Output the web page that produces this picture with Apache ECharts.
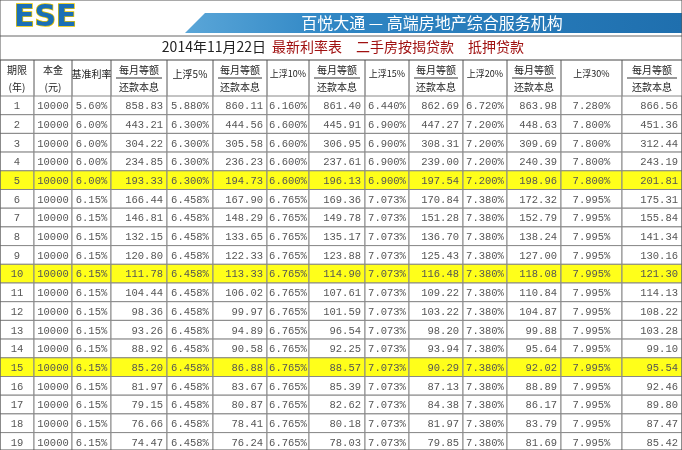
<!DOCTYPE html>
<html><head><meta charset="utf-8">
<script src="https://cdn.jsdelivr.net/npm/echarts@6/dist/echarts.min.js"></script>
<style>html,body{margin:0;padding:0;background:#fff}#c{width:682px;height:450px}</style>
</head><body><div id="c"></div>
<script>
const years=[1,2,3,4,5,6,7,8,9,10,11,12,13,14,15,16,17,18,19,20];
const principal=Array(20).fill('10000');
const baseRate=['5.60%','6.00%','6.00%','6.00%','6.00%','6.15%','6.15%','6.15%','6.15%','6.15%','6.15%','6.15%','6.15%','6.15%','6.15%','6.15%','6.15%','6.15%','6.15%','6.15%'];
const pay0=['858.83','443.21','304.22','234.85','193.33','166.44','146.81','132.15','120.80','111.78','104.44','98.36','93.26','88.92','85.20','81.97','79.15','76.66','74.47',''];
const rate5=['5.880%','6.300%','6.300%','6.300%','6.300%','6.458%','6.458%','6.458%','6.458%','6.458%','6.458%','6.458%','6.458%','6.458%','6.458%','6.458%','6.458%','6.458%','6.458%','6.458%'];
const pay5=['860.11','444.56','305.58','236.23','194.73','167.90','148.29','133.65','122.33','113.33','106.02','99.97','94.89','90.58','86.88','83.67','80.87','78.41','76.24',''];
const rate10=['6.160%','6.600%','6.600%','6.600%','6.600%','6.765%','6.765%','6.765%','6.765%','6.765%','6.765%','6.765%','6.765%','6.765%','6.765%','6.765%','6.765%','6.765%','6.765%','6.765%'];
const pay10=['861.40','445.91','306.95','237.61','196.13','169.36','149.78','135.17','123.88','114.90','107.61','101.59','96.54','92.25','88.57','85.39','82.62','80.18','78.03',''];
const rate15=['6.440%','6.900%','6.900%','6.900%','6.900%','7.073%','7.073%','7.073%','7.073%','7.073%','7.073%','7.073%','7.073%','7.073%','7.073%','7.073%','7.073%','7.073%','7.073%','7.073%'];
const pay15=['862.69','447.27','308.31','239.00','197.54','170.84','151.28','136.70','125.43','116.48','109.22','103.22','98.20','93.94','90.29','87.13','84.38','81.97','79.85',''];
const rate20=['6.720%','7.200%','7.200%','7.200%','7.200%','7.380%','7.380%','7.380%','7.380%','7.380%','7.380%','7.380%','7.380%','7.380%','7.380%','7.380%','7.380%','7.380%','7.380%','7.380%'];
const pay20=['863.98','448.63','309.69','240.39','198.96','172.32','152.79','138.24','127.00','118.08','110.84','104.87','99.88','95.64','92.02','88.89','86.17','83.79','81.69',''];
const rate30=['7.280%','7.800%','7.800%','7.800%','7.800%','7.995%','7.995%','7.995%','7.995%','7.995%','7.995%','7.995%','7.995%','7.995%','7.995%','7.995%','7.995%','7.995%','7.995%','7.995%'];
const pay30=['866.56','451.36','312.44','243.19','201.81','175.31','155.84','141.34','130.16','121.30','114.13','108.22','103.28','99.10','95.54','92.46','89.80','87.47','85.42',''];
const highlightYears=[5,10,15,20];
const headerTop=['期限','本金','基准利率','每月等额','上浮5%','每月等额','上浮10%','每月等额','上浮15%','每月等额','上浮20%','每月等额','上浮30%','每月等额'];
const headerBottom=['(年)','(元)','','还款本息','','还款本息','','还款本息','','还款本息','','还款本息','','还款本息'];
const bannerText='百悦大通 — 高端房地产综合服务机构';
const titleDate='2014年11月22日';
const titleRest='最新利率表　二手房按揭贷款　抵押贷款';

const colX=[0,34,72,111,167,213,267,309,365,409,463,507,561,622,682];
const hdrTop=60, hdrMid=78, bodyTop=96, rowH=18.7;
const columns=[years.map(String),principal,baseRate,pay0,rate5,pay5,rate10,pay10,rate15,pay15,rate20,pay20,rate30,pay30];
const cells=[];
years.forEach((y,r)=>columns.forEach((col,c)=>cells.push([c,r,col[r],highlightYears.includes(y)?1:0])));

const chart=echarts.init(document.getElementById('c'));
const F='"Noto Sans CJK SC","DejaVu Sans",sans-serif';
const numFont='"Liberation Mono","DejaVu Sans Mono",monospace';
function cellItem(params,api){
  const c=api.value(0),r=api.value(1),txt=cells[params.dataIndex][2],hl=cells[params.dataIndex][3];
  const p0=api.coord([colX[c],bodyTop+r*rowH]);const p1=api.coord([colX[c+1],bodyTop+(r+1)*rowH]);
  const w=p1[0]-p0[0],h=p1[1]-p0[1];
  const isPay=c>=3&&c%2===1;
  return {type:'group',children:[
    {type:'rect',shape:{x:p0[0],y:p0[1],width:w,height:h},style:{fill:hl?'#ffff1a':'#fff',stroke:'#888',lineWidth:1}},
    {type:'text',style:{text:txt,x:isPay?p1[0]-4:p0[0]+w/2,y:p0[1]+h/2+1,align:isPay?'right':'center',verticalAlign:'middle',fill:'#555',font:'10.5px '+numFont}}
  ]};
}
const graphics=[
  {type:'rect',shape:{x:0,y:0,width:682,height:450},style:{fill:'none',stroke:'#555',lineWidth:1},z:100},
  {type:'polygon',shape:{points:[[205,13],[682,13],[682,33],[185,33]]},style:{fill:new echarts.graphic.LinearGradient(0,0,1,0,[{offset:0,color:'#5aa6d8'},{offset:0.3,color:'#2f86c4'},{offset:1,color:'#1f6fae'}])}},
  {type:'text',style:{text:bannerText,x:432,y:23,align:'center',verticalAlign:'middle',fill:'#fff',font:'16px '+F}},
  {type:'text',style:{text:'ESE',x:14,y:18,align:'left',verticalAlign:'middle',fill:'#1a6fb5',font:'bold 30px "DejaVu Sans",sans-serif',stroke:'#e8c400',lineWidth:1.5}},
  {type:'line',shape:{x1:0,y1:36,x2:682,y2:36},style:{stroke:'#666'}},
  {type:'text',style:{text:titleDate,x:266,y:47,align:'right',verticalAlign:'middle',fill:'#222',font:'14px '+F}},
  {type:'text',style:{text:titleRest,x:272,y:47,align:'left',verticalAlign:'middle',fill:'#a01010',font:'14px '+F}},
  {type:'line',shape:{x1:0,y1:hdrTop,x2:682,y2:hdrTop},style:{stroke:'#444'}}
];
headerTop.forEach((t,c)=>{
  const cx=(colX[c]+colX[c+1])/2, rateCol=(c>=4&&c%2===0)||c===2;
  graphics.push({type:'line',shape:{x1:colX[c],y1:hdrTop,x2:colX[c],y2:bodyTop},style:{stroke:'#555'}});
  graphics.push({type:'text',style:{text:t,x:cx,y:rateCol?(hdrTop+bodyTop)/2-4:hdrTop+10,align:'center',verticalAlign:'middle',fill:'#222',font:(t.length>4?'9px ':'10px ')+F}});
  if(headerBottom[c]) graphics.push({type:'text',style:{text:headerBottom[c],x:cx,y:hdrMid+9,align:'center',verticalAlign:'middle',fill:'#222',font:'10px '+F}});
  if(c>=3&&c%2===1) graphics.push({type:'line',shape:{x1:colX[c]+5,y1:hdrMid,x2:colX[c+1]-5,y2:hdrMid},style:{stroke:'#333'}});
});
chart.setOption({
  animation:false,
  grid:{left:0,right:0,top:0,bottom:0},
  xAxis:{type:'value',min:0,max:682,show:false},
  yAxis:{type:'value',min:0,max:450,inverse:true,show:false},
  graphic:graphics,
  series:[{type:'custom',renderItem:cellItem,data:cells.map(d=>[d[0],d[1]]),silent:true}]
});
</script></body></html>
